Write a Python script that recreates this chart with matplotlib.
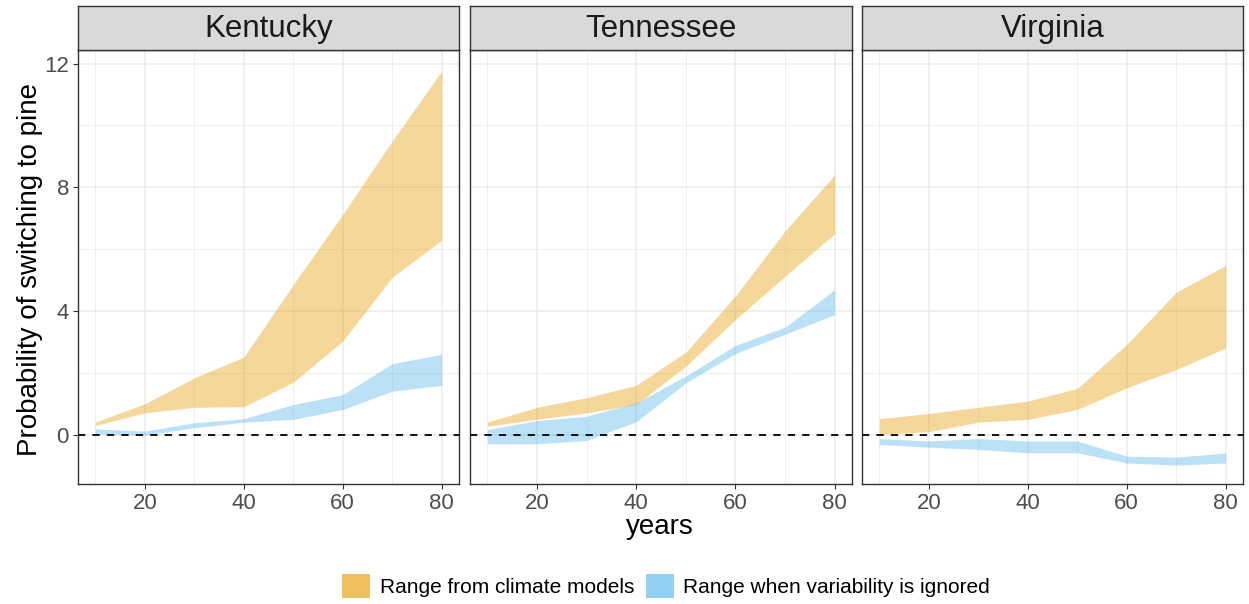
import matplotlib
matplotlib.use("Agg")
import matplotlib.pyplot as plt
from matplotlib.patches import Patch
import numpy as np

plt.rcParams['font.family'] = ['Liberation Sans', 'DejaVu Sans']

years = [10, 20, 30, 40, 50, 60, 70, 80]
states = ["Kentucky", "Tennessee", "Virginia"]

# Range from climate models (lower, upper)
clim_lo = {
    "Kentucky":  [0.30, 0.71, 0.89, 0.91, 1.70, 3.03, 5.10, 6.29],
    "Tennessee": [0.28, 0.50, 0.71, 0.98, 2.22, 3.73, 5.13, 6.50],
    "Virginia":  [0.01, 0.10, 0.41, 0.50, 0.82, 1.52, 2.11, 2.81],
}
clim_hi = {
    "Kentucky":  [0.41, 1.00, 1.84, 2.51, 4.86, 7.13, 9.50, 11.76],
    "Tennessee": [0.41, 0.89, 1.20, 1.60, 2.67, 4.49, 6.59, 8.40],
    "Virginia":  [0.52, 0.69, 0.89, 1.09, 1.50, 2.92, 4.61, 5.48],
}
# Range when variability is ignored (lower, upper)
novar_lo = {
    "Kentucky":  [0.03, -0.01, 0.23, 0.41, 0.50, 0.82, 1.41, 1.60],
    "Tennessee": [-0.29, -0.29, -0.18, 0.42, 1.68, 2.63, 3.25, 3.89],
    "Virginia":  [-0.31, -0.40, -0.47, -0.58, -0.58, -0.91, -0.98, -0.91],
}
novar_hi = {
    "Kentucky":  [0.19, 0.12, 0.39, 0.52, 0.98, 1.30, 2.30, 2.60],
    "Tennessee": [0.17, 0.46, 0.60, 1.03, 1.90, 2.89, 3.48, 4.69],
    "Virginia":  [-0.12, -0.20, -0.12, -0.20, -0.20, -0.69, -0.72, -0.59],
}

legend_labels = ["Range from climate models", "Range when variability is ignored"]
x_ticks = [20, 40, 60, 80]
y_ticks = [0, 4, 8, 12]

ORANGE = "#E69F00"
BLUE = "#56B4E9"

W, H = 1249, 604
fig = plt.figure(figsize=(W / 100, H / 100), dpi=100)

panels = [(78, 459), (470, 852), (862, 1243)]
top, bottom, strip_top = 50, 484, 5.5

xlim = (6.5, 83.5)
ylim = (-1.59, 12.44)

for i, (st, (l, r)) in enumerate(zip(states, panels)):
    ax = fig.add_axes([l / W, (H - bottom) / H, (r - l) / W, (bottom - top) / H])
    ax.set_facecolor("white")
    ax.set_xlim(*xlim)
    ax.set_ylim(*ylim)
    ax.set_xticks(x_ticks)
    ax.set_xticks([10, 30, 50, 70], minor=True)
    ax.set_yticks(y_ticks)
    ax.set_yticks([2, 6, 10], minor=True)
    ax.grid(True, which="major", color="#EBEBEB", lw=1.1, zorder=0)
    ax.grid(True, which="minor", color="#EBEBEB", lw=0.55, zorder=0)
    ax.set_axisbelow(True)
    ax.fill_between(years, clim_lo[st], clim_hi[st], color=ORANGE, alpha=0.4, lw=0, zorder=2)
    ax.fill_between(years, novar_lo[st], novar_hi[st], color=BLUE, alpha=0.4, lw=0, zorder=2)
    ax.axhline(0, color="black", ls=(0, (4, 4)), lw=1.3, zorder=3)
    for sp in ax.spines.values():
        sp.set_color("#333333")
        sp.set_linewidth(1.0)
    ax.tick_params(which="major", length=3.5, width=0.8, color="#333333",
                   labelsize=16, labelcolor="#4D4D4D", pad=3)
    ax.tick_params(which="minor", length=0)
    if i > 0:
        ax.tick_params(axis="y", which="major", length=0, labelleft=False)
    # strip
    sax = fig.add_axes([l / W, (H - top) / H, (r - l) / W, (top - strip_top) / H])
    sax.set_facecolor("#D9D9D9")
    sax.set_xticks([])
    sax.set_yticks([])
    for sp in sax.spines.values():
        sp.set_color("#333333")
        sp.set_linewidth(1.0)
    sax.text(0.5, 0.47, st, ha="center", va="center", fontsize=22.5,
             color="#1A1A1A", transform=sax.transAxes)

fig.text(30 / W, 1 - 269 / H, "Probability of switching to pine", rotation=90,
         ha="center", va="center", fontsize=20, color="black")
fig.text(660 / W, 1 - 527 / H, "years", ha="center", va="center",
         fontsize=20, color="black")

handles = [Patch(facecolor=ORANGE, alpha=0.64, lw=0),
           Patch(facecolor=BLUE, alpha=0.64, lw=0)]
fig.legend(handles, legend_labels, loc="center", bbox_to_anchor=(666 / W, 1 - 586 / H),
           ncol=2, frameon=False, fontsize=15, handlelength=1.35, handleheight=1.35,
           handletextpad=0.45, columnspacing=0.55)

fig.savefig("out.png", dpi=100)
